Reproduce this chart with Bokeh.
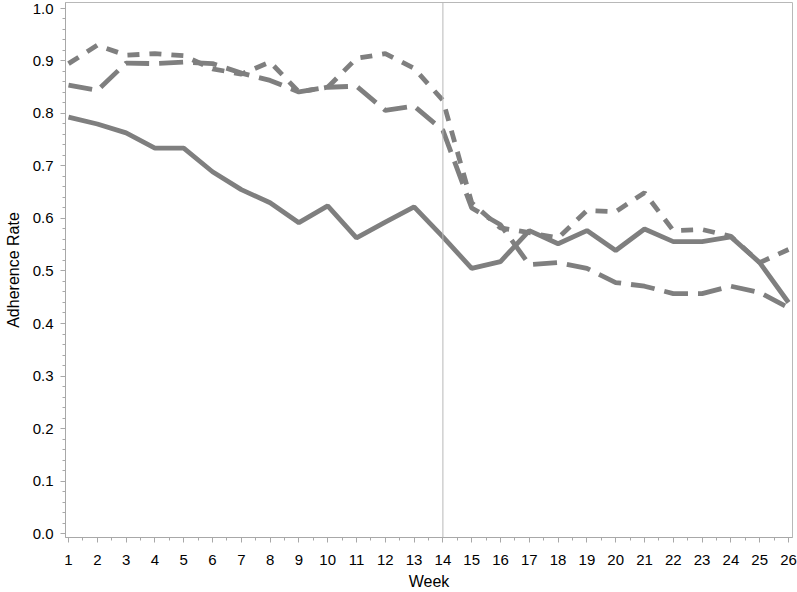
from bokeh.plotting import figure
from bokeh.models import Range1d, SingleIntervalTicker, Span, PrintfTickFormatter
from bokeh.embed import file_html
from bokeh.resources import INLINE

weeks = list(range(1, 27))
solid_rate = [0.793, 0.780, 0.763, 0.734, 0.734, 0.689, 0.655, 0.630, 0.592, 0.624,
              0.563, 0.593, 0.622, 0.565, 0.505, 0.518, 0.577, 0.552, 0.577, 0.539,
              0.580, 0.556, 0.556, 0.565, 0.516, 0.440]
short_dash_rate = [0.895, 0.930, 0.911, 0.914, 0.910, 0.885, 0.875, 0.898, 0.841, 0.850,
                   0.905, 0.914, 0.886, 0.825, 0.630, 0.582, 0.573, 0.563, 0.615, 0.613,
                   0.649, 0.577, 0.579, 0.566, 0.516, 0.541]
long_dash_rate = [0.854, 0.844, 0.896, 0.895, 0.898, 0.895, 0.877, 0.863, 0.841, 0.850,
                  0.852, 0.806, 0.814, 0.768, 0.620, 0.588, 0.512, 0.516, 0.505, 0.478,
                  0.471, 0.457, 0.457, 0.471, 0.459, 0.430]
marker_week = 14

GRAY = "#7f7f7f"
AXIS_GRAY = "#a8a8a8"
FONT = "Liberation Sans"

p = figure(width=797, height=592, min_border_left=65, min_border_top=2,
           min_border_right=5, min_border_bottom=53,
           output_backend="svg", toolbar_location=None,
           x_range=Range1d(0.8958, 26.139), y_range=Range1d(-0.0076, 1.0114))

p.line(weeks, solid_rate, line_color=GRAY, line_width=4.8)
p.line(weeks, short_dash_rate, line_color=GRAY, line_width=4.8, line_dash="12 10")
p.line(weeks, long_dash_rate, line_color=GRAY, line_width=4.8, line_dash="24 10")

p.add_layout(Span(location=marker_week, dimension="height", line_color="#b8b8b8", line_width=1))

p.xgrid.visible = False
p.ygrid.visible = False
p.outline_line_color = "#b8b8b8"
p.outline_line_width = 1

p.xaxis.ticker = SingleIntervalTicker(interval=1, num_minor_ticks=2)
p.yaxis.ticker = SingleIntervalTicker(interval=0.1, num_minor_ticks=5)
p.yaxis.formatter = PrintfTickFormatter(format="%.1f")

for ax in (p.xaxis, p.yaxis):
    ax.axis_line_color = AXIS_GRAY
    ax.major_tick_line_color = AXIS_GRAY
    ax.minor_tick_line_color = AXIS_GRAY
    ax.major_tick_out = 5
    ax.major_tick_in = 0
    ax.minor_tick_out = 3
    ax.minor_tick_in = 0
    ax.major_label_text_font = FONT
    ax.major_label_text_font_size = "15px"
    ax.major_label_text_color = "black"
    ax.axis_label_text_font = FONT
    ax.axis_label_text_font_size = "16px"
    ax.axis_label_text_font_style = "normal"
    ax.axis_label_text_color = "black"

p.xaxis.axis_label = "Week"
p.yaxis.axis_label = "Adherence Rate"
p.xaxis.major_label_standoff = 12
p.xaxis.axis_label_standoff = 5
p.yaxis.major_label_standoff = 7
p.yaxis.axis_label_standoff = 8

open("out.html", "w").write(file_html(p, INLINE))
